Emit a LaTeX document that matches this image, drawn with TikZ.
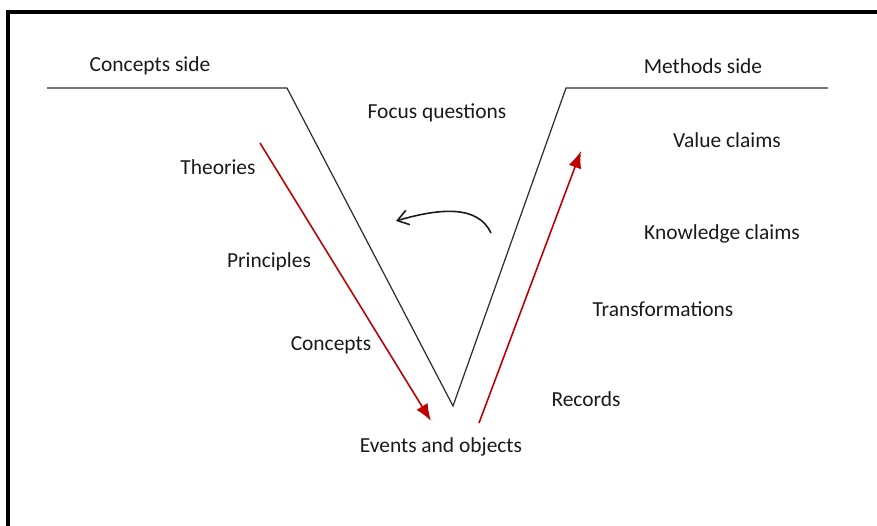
\documentclass[tikz,border=0pt]{standalone}
\usepackage{fontspec}
\setmainfont{Carlito}
\usetikzlibrary{arrows.meta}
\definecolor{ink}{HTML}{1A1A1A}
\definecolor{vline}{HTML}{2E2E2E}
\definecolor{flowred}{HTML}{C00000}

\begin{document}
\begin{tikzpicture}[x=0.02cm, y=-0.02cm, font=\fontsize{12.2}{14}\selectfont,
  lbl/.style={text=ink, inner sep=1pt},
  vee/.style={draw=vline, line width=0.7pt},
  frame/.style={draw=black, line width=1.9pt},
  flow/.style={-{Latex[length=3.4mm,width=2.6mm]}, draw=flowred, line width=0.9pt},
  swap/.style={-{Straight Barb[length=2.2mm,width=3mm]}, draw=ink, line width=0.9pt},
]
\useasboundingbox (0,0) rectangle (877,525);
% outer frame
\draw[frame] (877,12) -- (8,12) -- (8,530);
% the V
\coordinate (lend) at (47,88);
\coordinate (lrim) at (287,88);
\coordinate (tip) at (453,406);
\coordinate (rrim) at (566,88);
\coordinate (rend) at (828,88);
\draw[vee] (lend) -- (lrim) -- (tip) -- (rrim) -- (rend);
% labels
\node[lbl] (cside) at (150,66) {Concepts side};
\node[lbl] (mside) at (703,66) {Methods side};
\node[lbl] (focus) at (437,113) {Focus questions};
\node[lbl] (theo) at (218,167) {Theories};
\node[lbl] (princ) at (269,262) {Principles};
\node[lbl] (conc) at (331,345) {Concepts};
\node[lbl] (events) at (441,447) {Events and objects};
\node[lbl] (value) at (727,140) {Value claims};
\node[lbl] (know) at (722,234) {Knowledge claims};
\node[lbl] (trans) at (663,309) {Transformations};
\node[lbl] (rec) at (586,399) {Records};
% red flows
\coordinate (downA) at (260,143);
\coordinate (downB) at (431,421);
\coordinate (upA) at (479,423);
\coordinate (upB) at (581,151);
\draw[flow] (downA) -- (downB);
\draw[flow] (upA) -- (upB);
% interplay arrow
\coordinate (swA) at (491,233);
\coordinate (swB) at (396,221);
\draw[swap] (swA) .. controls (478,205) and (440,208) .. (swB);
\end{tikzpicture}
\end{document}
